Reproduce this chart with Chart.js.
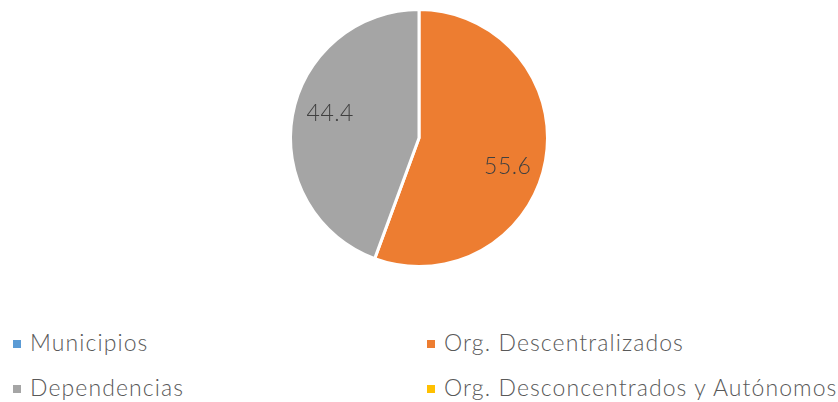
<!DOCTYPE html>
<html>
<head>
<meta charset="utf-8">
<script src="https://cdn.jsdelivr.net/npm/chart.js@4/dist/chart.umd.min.js"></script>
<style>
  html, body { margin: 0; padding: 0; background: #fff; }
  #wrap { position: relative; width: 838px; height: 402px; }
  #chartBox { position: absolute; left: 0; top: 0; width: 838px; height: 276px; }
  #legend { position: absolute; left: 0; top: 327px; width: 838px; font-family: Lato, "Open Sans", sans-serif; font-weight: 300; font-size: 23px; letter-spacing: 1.1px; color: #595959; }
  .item { position: absolute; white-space: nowrap; line-height: 30px; }
  .item span.box { display: inline-block; width: 8px; height: 8px; margin-right: 9px; vertical-align: 3px; }
</style>
</head>
<body>
<div id="wrap">
  <div id="chartBox"><canvas id="pie"></canvas></div>
  <div id="legend"></div>
</div>
<script>
// categories and values
const labels = ["Municipios", "Org. Descentralizados", "Dependencias", "Org. Desconcentrados y Autónomos"];
const values = [0, 55.6, 44.4, 0];
const colors = ["#5b9bd5", "#ed7d31", "#a5a5a5", "#ffc000"];

// two-column legend
const legendPos = [[13, 0], [427, 0], [13, 45], [427, 45]];
const legend = document.getElementById("legend");
labels.forEach((l, i) => {
  const d = document.createElement("div");
  d.className = "item";
  d.style.left = legendPos[i][0] + "px";
  d.style.top = legendPos[i][1] + "px";
  d.innerHTML = '<span class="box" style="background:' + colors[i] + '"></span>' + l;
  legend.appendChild(d);
});

// value labels inside slices
const sliceLabels = {
  id: "sliceLabels",
  afterDatasetsDraw(chart) {
    const ctx = chart.ctx;
    const meta = chart.getDatasetMeta(0);
    ctx.save();
    ctx.font = "300 23px Lato, 'Open Sans', sans-serif";
    ctx.letterSpacing = "0.5px";
    ctx.fillStyle = "#404040";
    ctx.textAlign = "center";
    ctx.textBaseline = "middle";
    meta.data.forEach((arc, i) => {
      const v = values[i];
      if (!v) return;
      const a = (arc.startAngle + arc.endAngle) / 2 + 0.11;
      const r = arc.outerRadius * 0.72;
      ctx.fillText(v.toFixed(1), arc.x + Math.cos(a) * r, arc.y + Math.sin(a) * r + 2);
    });
    ctx.restore();
  }
};

new Chart(document.getElementById("pie").getContext("2d"), {
  type: "pie",
  data: {
    labels: labels,
    datasets: [{
      data: values,
      backgroundColor: colors,
      borderColor: "#ffffff",
      borderWidth: 3
    }]
  },
  options: {
    responsive: true,
    maintainAspectRatio: false,
    animation: false,
    layout: { padding: { top: 8, bottom: 8 } },
    plugins: {
      legend: { display: false },
      tooltip: { enabled: false }
    }
  },
  plugins: [sliceLabels]
});
</script>
</body>
</html>
